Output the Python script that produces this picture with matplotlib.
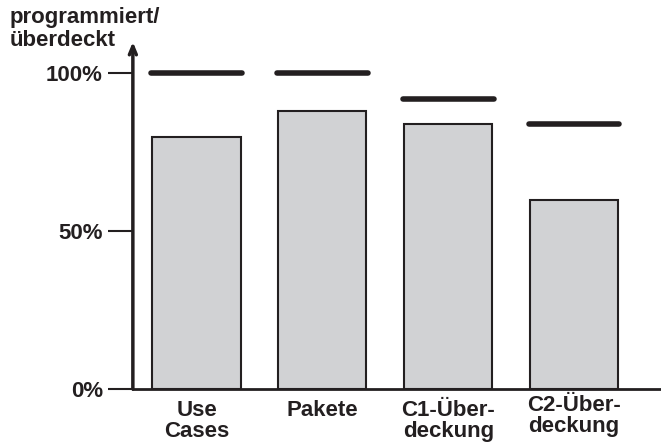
import numpy as np
import matplotlib.pyplot as plt

plt.rcParams['font.family'] = ['Liberation Sans', 'DejaVu Sans']
plt.rcParams['font.weight'] = 'bold'

categories = ["Use\nCases", "Pakete", "C1-Über-\ndeckung", "C2-Über-\ndeckung"]
actual = [0.80, 0.88, 0.84, 0.60]
target = [1.00, 1.00, 0.92, 0.84]
yticks = [0.0, 0.5, 1.0]
yticklabels = ["0%", "50%", "100%"]

fig = plt.figure(figsize=(6.61, 4.45), dpi=100)
ax = fig.add_axes([0.201, 0.1258, 0.799, 0.78])

x = np.arange(len(categories))
ax.bar(x, actual, width=0.70, color='#d1d2d4', edgecolor='#231f20', linewidth=1.5)
ax.hlines(target, x - 0.36, x + 0.36, colors='#231f20', linewidth=4, capstyle='round')

ax.set_xlim(-0.506, 3.69)
ax.set_ylim(0, 1.10)

for s in ['top', 'right', 'left']:
    ax.spines[s].set_visible(False)
ax.spines['bottom'].set_linewidth(2)
ax.spines['bottom'].set_color('#231f20')

# y axis with arrow head
ax.annotate('', xy=(0, 1.0), xytext=(0, 0), xycoords='axes fraction',
            arrowprops=dict(arrowstyle='->,head_width=0.25,head_length=0.6',
                            lw=2.5, color='#231f20', shrinkA=0, shrinkB=0))

ax.set_yticks(yticks)
ax.set_yticklabels(yticklabels, fontsize=16, fontweight='bold', color='#231f20')
ax.tick_params(axis='y', length=18, width=1.5, pad=3.5, color='#231f20')
ax.set_xticks([])

offsets = [0, 0, 0, 4]
for xi, lab, off in zip(x, categories, offsets):
    ax.annotate(lab, xy=(xi, 0), xycoords=('data', 'axes fraction'),
                xytext=(0, -8 + off), textcoords='offset points',
                ha='center', va='top', fontsize=16, fontweight='bold',
                color='#231f20', linespacing=1.0)

fig.text(0.014, 0.985, "programmiert/\nüberdeckt", ha='left', va='top',
         fontsize=16, fontweight='bold', color='#231f20', linespacing=1.15)

fig.savefig('out.png', dpi=100)
